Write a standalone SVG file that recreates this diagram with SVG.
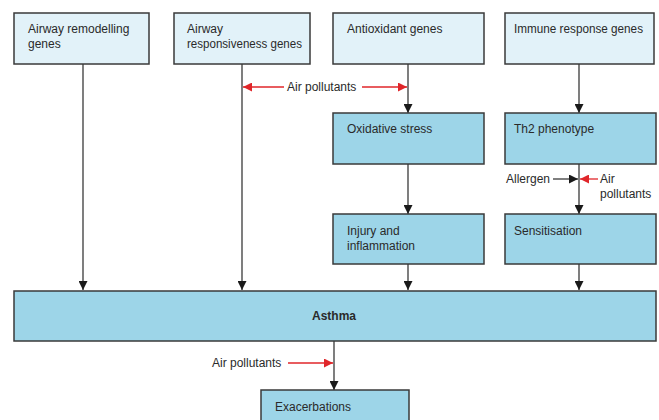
<svg xmlns="http://www.w3.org/2000/svg" width="659" height="420" viewBox="0 0 659 420">
<defs>
<style>
.top{fill:#e2f2f9;stroke:#3a3a3a;stroke-width:1.5}
.mid{fill:#9dd5e8;stroke:#3a3a3a;stroke-width:1.5}
text{font-family:"Liberation Sans",Arial,sans-serif;font-size:12px;fill:#2a2a2a}
.b{font-weight:bold}
.k{stroke:#3a3a3a;stroke-width:1.3;fill:none}
.r{stroke:#e0262a;stroke-width:1.3;fill:none}
</style>
<marker id="ak" viewBox="0 0 10 10" refX="10" refY="5" markerWidth="9" markerHeight="9" markerUnits="userSpaceOnUse" orient="auto"><path d="M0,0 L10,5 L0,10 Z" fill="#1a1a1a"/></marker>
<marker id="ar" viewBox="0 0 10 10" refX="10" refY="5" markerWidth="9" markerHeight="9" markerUnits="userSpaceOnUse" orient="auto"><path d="M0,0 L10,5 L0,10 Z" fill="#e0262a"/></marker>
</defs>
<rect width="659" height="420" fill="#ffffff"/>
<g id="connectors">
<line class="k" x1="83" y1="64" x2="83" y2="290" marker-end="url(#ak)"/>
<line class="k" x1="242" y1="64" x2="242" y2="290" marker-end="url(#ak)"/>
<line class="k" x1="408" y1="64" x2="408" y2="113" marker-end="url(#ak)"/>
<line class="k" x1="579" y1="64" x2="579" y2="113" marker-end="url(#ak)"/>
<line class="k" x1="408" y1="164" x2="408" y2="214" marker-end="url(#ak)"/>
<line class="k" x1="579" y1="164" x2="579" y2="214" marker-end="url(#ak)"/>
<line class="k" x1="408" y1="264" x2="408" y2="290" marker-end="url(#ak)"/>
<line class="k" x1="579" y1="264" x2="579" y2="290" marker-end="url(#ak)"/>
<line class="k" x1="334" y1="341" x2="334" y2="390" marker-end="url(#ak)"/>
<line class="r" x1="284" y1="87" x2="243" y2="87" marker-end="url(#ar)"/>
<line class="r" x1="362" y1="87" x2="407" y2="87" marker-end="url(#ar)"/>
<text x="287" y="91">Air pollutants</text>
<line class="k" x1="553" y1="179" x2="578" y2="179" marker-end="url(#ak)"/>
<text x="550" y="183" text-anchor="end">Allergen</text>
<line class="r" x1="598" y1="179" x2="580" y2="179" marker-end="url(#ar)"/>
<text x="600" y="183">Air</text>
<text x="600" y="198">pollutants</text>
<line class="r" x1="288" y1="363" x2="333" y2="363" marker-end="url(#ar)"/>
<text x="212" y="367">Air pollutants</text>
</g>
<g id="n1"><rect class="top" x="14" y="13" width="135" height="51"/><text x="28" y="33">Airway remodelling</text><text x="28" y="48">genes</text></g>
<g id="n2"><rect class="top" x="174" y="13" width="136" height="51"/><text x="187" y="33">Airway</text><text x="187" y="48" textLength="115" lengthAdjust="spacingAndGlyphs">responsiveness genes</text></g>
<g id="n3"><rect class="top" x="333" y="13" width="151" height="51"/><text x="347" y="33">Antioxidant genes</text></g>
<g id="n4"><rect class="top" x="505" y="13" width="149" height="51"/><text x="514" y="33" textLength="129" lengthAdjust="spacingAndGlyphs">Immune response genes</text></g>
<g id="n5"><rect class="mid" x="333" y="113" width="151" height="51"/><text x="347" y="133">Oxidative stress</text></g>
<g id="n6"><rect class="mid" x="505" y="113" width="151" height="51"/><text x="514" y="133">Th2 phenotype</text></g>
<g id="n7"><rect class="mid" x="333" y="214" width="151" height="50"/><text x="347" y="235">Injury and</text><text x="347" y="250">inflammation</text></g>
<g id="n8"><rect class="mid" x="505" y="214" width="151" height="50"/><text x="514" y="235">Sensitisation</text></g>
<g id="n9"><rect class="mid" x="14" y="291" width="642" height="50"/><text class="b" x="334" y="320" text-anchor="middle">Asthma</text></g>
<g id="n10"><rect class="mid" x="261" y="390" width="148" height="40"/><text x="275" y="411">Exacerbations</text></g>
</svg>
